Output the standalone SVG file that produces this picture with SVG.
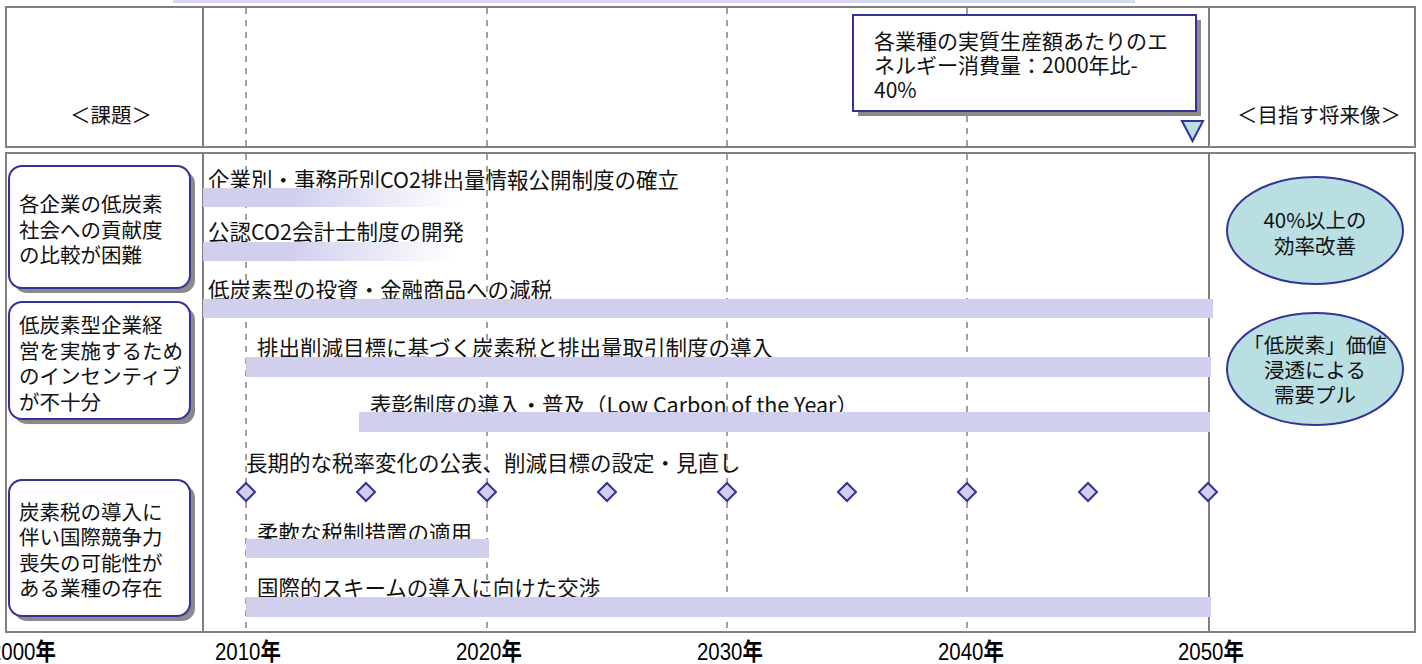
<svg xmlns="http://www.w3.org/2000/svg" width="1422" height="664" viewBox="0 0 1422 664">
<style>
.frame{fill:none;stroke:#808080;stroke-width:2}
.div{stroke:#808080;stroke-width:2}
.dash{stroke:#808080;stroke-width:1.5;stroke-dasharray:6 6}
.jp{font-family:"Noto Sans CJK JP","Liberation Sans",sans-serif;fill:#111}
.t20{font-size:20.5px}
.t21{font-size:21px}
.bt{font-size:21.5px}
.box{fill:#fff;stroke:#333399;stroke-width:2}
.shadow{fill:#8a8a8a}
.bar{fill:#d0d0ee}
.dia{fill:#d0d0ee;stroke:#333399;stroke-width:2}
.oval{fill:#b9dfe3;stroke:#333399;stroke-width:2}
.yr{font-family:"Liberation Sans",sans-serif;font-size:24px;fill:#000}
.nen{font-family:"Noto Sans CJK JP",sans-serif;font-weight:bold}
</style>
<defs>
<linearGradient id="fade" x1="0" y1="0" x2="1" y2="0">
<stop offset="0" stop-color="#d0d0ee"/>
<stop offset="0.35" stop-color="#d0d0ee"/>
<stop offset="1" stop-color="#ffffff"/>
</linearGradient>
</defs>
<rect x="0" y="0" width="1422" height="664" fill="#fff"/>
<rect x="173" y="-2" width="962" height="5" fill="#d8d8f6"/>

<g id="grid">
<rect class="frame" x="6" y="7" width="1409" height="140"/>
<rect class="frame" x="6" y="153" width="1409" height="479"/>
<line class="div" x1="203" y1="7" x2="203" y2="147"/>
<line class="div" x1="1209" y1="7" x2="1209" y2="147"/>
<line class="div" x1="203" y1="153" x2="203" y2="632"/>
<line class="div" x1="1209" y1="153" x2="1209" y2="632"/>
<line class="dash" x1="246" y1="8" x2="246" y2="147"/>
<line class="dash" x1="487" y1="8" x2="487" y2="147"/>
<line class="dash" x1="727" y1="8" x2="727" y2="147"/>
<line class="dash" x1="967" y1="8" x2="967" y2="147"/>
<line class="dash" x1="246" y1="154" x2="246" y2="632"/>
<line class="dash" x1="487" y1="154" x2="487" y2="632"/>
<line class="dash" x1="727" y1="154" x2="727" y2="632"/>
<line class="dash" x1="967" y1="154" x2="967" y2="632"/>
</g>

<g id="headers">
<text class="jp t20" x="70" y="123">＜課題＞</text>
<text class="jp t20" x="1237" y="123">＜目指す将来像＞</text>
</g>

<g id="callout">
<rect class="shadow" x="858" y="20" width="343" height="96"/>
<rect class="box" x="853" y="15" width="343" height="96"/>
<text class="jp t21" x="874" y="49">各業種の実質生産額あたりのエ<tspan x="874" dy="24">ネルギー消費量：2000年比-</tspan><tspan x="874" dy="25">40%</tspan></text>
<polygon points="1182,121 1203,121 1192.5,141" fill="#b9dfe3" stroke="#333399" stroke-width="2"/>
</g>

<g id="issue1">
<rect class="shadow" x="14" y="171" width="181" height="122" rx="13"/>
<rect class="box" x="9" y="166" width="181" height="122" rx="13"/>
<text class="jp t20" x="19" y="212">各企業の低炭素<tspan x="19" dy="25.5">社会への貢献度</tspan><tspan x="19" dy="25.5">の比較が困難</tspan></text>
</g>
<g id="issue2">
<rect class="shadow" x="14" y="307" width="181" height="117" rx="13"/>
<rect class="box" x="9" y="302" width="181" height="117" rx="13"/>
<text class="jp t20" x="19" y="333">低炭素型企業経<tspan x="19" dy="25.5">営を実施するため</tspan><tspan x="19" dy="25.5">のインセンティブ</tspan><tspan x="19" dy="25.5">が不十分</tspan></text>
</g>
<g id="issue3">
<rect class="shadow" x="14" y="485" width="181" height="136" rx="13"/>
<rect class="box" x="9" y="480" width="181" height="136" rx="13"/>
<text class="jp t20" x="19" y="520">炭素税の導入に<tspan x="19" dy="25.3">伴い国際競争力</tspan><tspan x="19" dy="25.3">喪失の可能性が</tspan><tspan x="19" dy="25.3">ある業種の存在</tspan></text>
</g>

<g id="measure1">
<text class="jp bt" x="208" y="188">企業別・事務所別CO2排出量情報公開制度の確立</text>
<rect x="203" y="188" width="257" height="19" fill="url(#fade)"/>
</g>
<g id="measure2">
<text class="jp bt" x="208" y="240">公認CO2会計士制度の開発</text>
<rect x="203" y="242" width="252" height="19" fill="url(#fade)"/>
</g>
<g id="measure3">
<text class="jp bt" x="208" y="298">低炭素型の投資・金融商品への減税</text>
<rect class="bar" x="203" y="299" width="1010" height="19"/>
</g>
<g id="measure4">
<text class="jp bt" x="257" y="356">排出削減目標に基づく炭素税と排出量取引制度の導入</text>
<rect class="bar" x="246" y="357" width="965" height="20"/>
</g>
<g id="measure5">
<text class="jp bt" x="370" y="413">表彰制度の導入・普及（Low Carbon of the Year）</text>
<rect class="bar" x="359" y="412" width="851" height="20"/>
</g>
<g id="measure6">
<text class="jp bt" x="246" y="471">長期的な税率変化の公表、削減目標の設定・見直し</text>
<polygon class="dia" points="246,483 255,492 246,501 237,492"/>
<polygon class="dia" points="366,483 375,492 366,501 357,492"/>
<polygon class="dia" points="487,483 496,492 487,501 478,492"/>
<polygon class="dia" points="607,483 616,492 607,501 598,492"/>
<polygon class="dia" points="727,483 736,492 727,501 718,492"/>
<polygon class="dia" points="847,483 856,492 847,501 838,492"/>
<polygon class="dia" points="967,483 976,492 967,501 958,492"/>
<polygon class="dia" points="1088,483 1097,492 1088,501 1079,492"/>
<polygon class="dia" points="1208,483 1217,492 1208,501 1199,492"/>
</g>
<g id="measure7">
<text class="jp bt" x="257" y="541">柔軟な税制措置の適用</text>
<rect class="bar" x="246" y="539" width="243" height="19"/>
</g>
<g id="measure8">
<text class="jp bt" x="257" y="596">国際的スキームの導入に向けた交渉</text>
<rect class="bar" x="246" y="597" width="965" height="20"/>
</g>

<g id="goal1">
<ellipse class="oval" cx="1315" cy="230.5" rx="88" ry="53.5"/>
<text class="jp t20" x="1315" y="228" text-anchor="middle">40%以上の<tspan x="1315" dy="26">効率改善</tspan></text>
</g>
<g id="goal2">
<ellipse class="oval" cx="1315" cy="369" rx="88" ry="56"/>
<text class="jp t20" x="1315" y="353" text-anchor="middle">「低炭素」価値<tspan x="1315" dy="25">浸透による</tspan><tspan x="1315" dy="25">需要プル</tspan></text>
</g>

<g id="axis">
<text class="yr" transform="translate(-10,660) scale(0.85,1)">2000<tspan class="nen">年</tspan></text>
<text class="yr" transform="translate(215,660) scale(0.85,1)">2010<tspan class="nen">年</tspan></text>
<text class="yr" transform="translate(456,660) scale(0.85,1)">2020<tspan class="nen">年</tspan></text>
<text class="yr" transform="translate(697,660) scale(0.85,1)">2030<tspan class="nen">年</tspan></text>
<text class="yr" transform="translate(938,660) scale(0.85,1)">2040<tspan class="nen">年</tspan></text>
<text class="yr" transform="translate(1178,660) scale(0.85,1)">2050<tspan class="nen">年</tspan></text>
</g>
</svg>
